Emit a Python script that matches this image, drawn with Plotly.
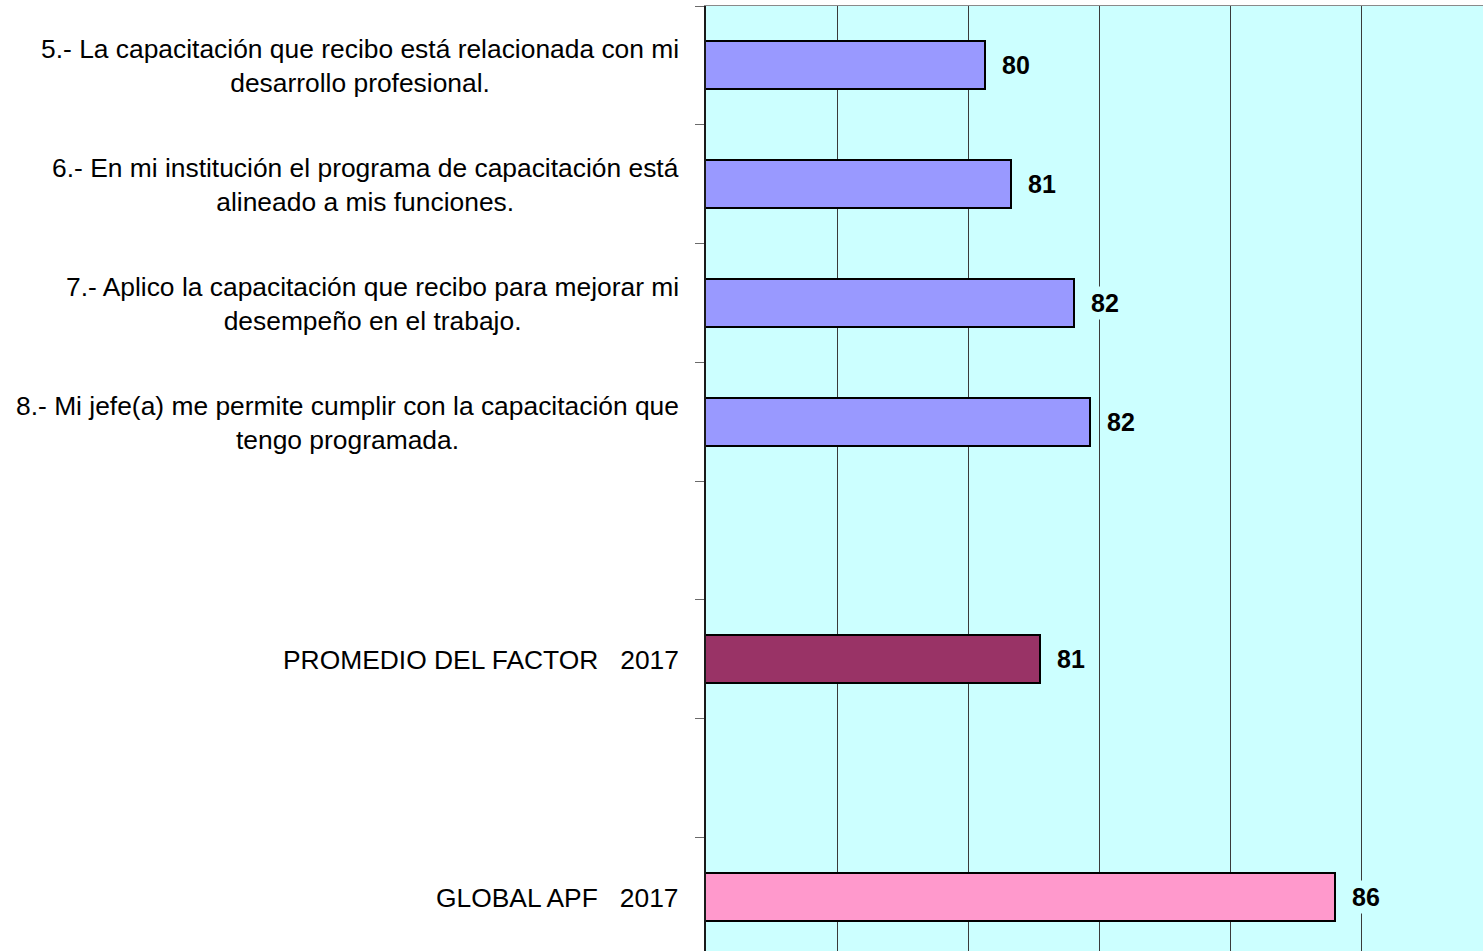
import plotly.graph_objects as go

# ---- data ----
categories = [
    "5.- La capacitación que recibo está relacionada con mi<br>desarrollo profesional.",
    "6.- En mi institución el programa de capacitación está<br>alineado a mis funciones.",
    "7.- Aplico la capacitación que recibo para mejorar mi<br>desempeño en el trabajo.",
    "8.- Mi jefe(a) me permite cumplir con la capacitación que<br>tengo programada.",
    "",
    "PROMEDIO DEL FACTOR\u00a0\u00a0\u00a02017",
    "",
    "GLOBAL APF\u00a0\u00a0\u00a02017",
]
values = [80.26, 80.66, 81.62, 81.86, None, 81.10, None, 85.60]
value_labels = ["80", "81", "82", "82", "", "81", "", "86"]
bar_colors = ["#9999FF", "#9999FF", "#9999FF", "#9999FF", "#9999FF",
              "#993366", "#9999FF", "#FF99CC"]

positions = list(range(len(categories)))

W, H = 1483, 951
L, T = 706, 6
px_per_cat = 118.79
px_per_unit = 65.5
x_min = 76
x_max = x_min + (W - L) / px_per_unit
y_top = -0.5
y_bottom = y_top + (H - T) / px_per_cat

FONT = "Liberation Sans, Arial, sans-serif"

fig = go.Figure()
fig.add_trace(go.Bar(
    y=positions,
    x=values,
    orientation="h",
    width=0.404,
    marker=dict(color=bar_colors, line=dict(color="black", width=2)),
    hoverinfo="skip",
    showlegend=False,
))

annotations = []
for pos, cat in zip(positions, categories):
    if cat:
        annotations.append(dict(
            xref="paper", yref="y", x=0, y=pos, xanchor="right", yanchor="middle",
            xshift=-25, yshift=-1, text=cat, align="center", showarrow=False,
            font=dict(family=FONT, size=26.4, color="black"),
        ))
for pos, v, lab in zip(positions, values, value_labels):
    if v is not None:
        annotations.append(dict(
            xref="x", yref="y", x=v, y=pos, xanchor="left", yanchor="middle",
            xshift=14, text="<b>" + lab + "</b>", showarrow=False,
            bgcolor="#CCFFFF", borderpad=2,
            font=dict(family=FONT, size=25, color="black"),
        ))

fig.update_layout(
    width=W, height=H,
    margin=dict(l=L, r=0, t=T, b=0, pad=0),
    paper_bgcolor="white",
    plot_bgcolor="#CCFFFF",
    bargap=0,
    annotations=annotations,
    xaxis=dict(
        range=[x_min, x_max], tick0=x_min, dtick=2,
        showgrid=True, gridcolor="#3a3a3a", gridwidth=1,
        showticklabels=False, ticks="", zeroline=False,
        showline=True, mirror=True, linecolor="#8a8a8a", linewidth=1,
    ),
    yaxis=dict(
        range=[y_bottom, y_top],
        tickmode="array",
        tickvals=[p - 0.5 for p in positions],
        ticktext=["" for _ in positions],
        ticks="outside", ticklen=9, tickcolor="#6a6a6a", tickwidth=1,
        showticklabels=False, showgrid=False, zeroline=False,
        showline=True, linecolor="#1a1a1a", linewidth=2,
    ),
)

fig.write_html("out.html", config={"displayModeBar": False},
               post_script="document.body.style.margin='0';")
